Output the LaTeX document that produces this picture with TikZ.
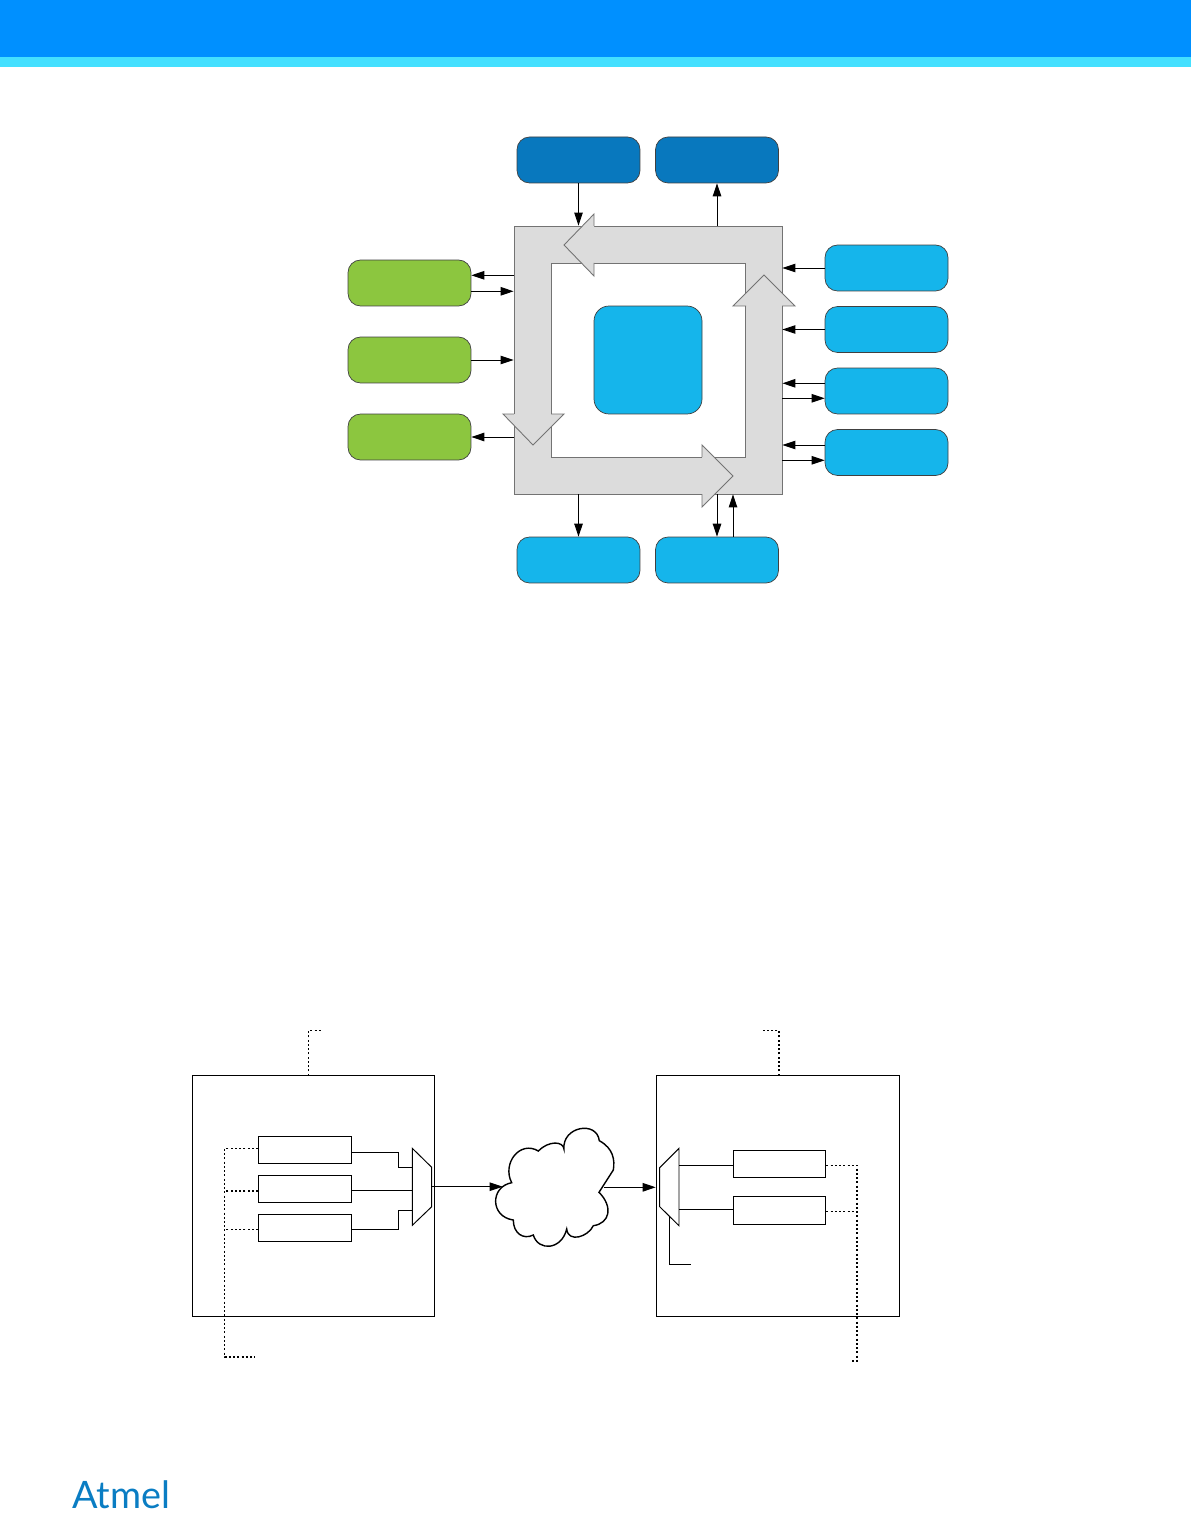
\documentclass[tikz,border=0pt]{standalone}
\usepackage{fontspec}
\usepackage{tikz}
\usetikzlibrary{arrows.meta}
\newfontfamily\logofont{Lato}
\definecolor{headblue}{RGB}{0,144,255}
\definecolor{headcyan}{RGB}{68,224,255}
\definecolor{darkblue}{RGB}{8,120,190}
\definecolor{lightblue}{RGB}{21,181,235}
\definecolor{leafgreen}{RGB}{140,198,63}
\definecolor{busgrey}{RGB}{220,220,220}
\definecolor{logoblue}{RGB}{10,125,195}
\tikzset{
  unit/.style={draw=black!75,rounded corners=0.25cm,minimum width=2.46cm,minimum height=0.92cm,inner sep=0pt,line width=0.4pt},
  master/.style={unit,fill=darkblue},
  slave/.style={unit,fill=lightblue},
  memory/.style={unit,fill=leafgreen},
  busbox/.style={draw=black!55,fill=busgrey,minimum size=5.36cm,inner sep=0pt,line width=0.5pt},
  conn/.style={line width=0.55pt,-{Triangle[length=2.6mm,width=1.7mm]}},
  wire/.style={line width=0.55pt},
  dots/.style={line width=0.85pt,dash pattern=on 0.04cm off 0.045cm},
  frame/.style={draw,line width=0.6pt,inner sep=0pt},
  reg/.style={frame,minimum width=1.85cm,minimum height=0.54cm}
}
\newcommand{\bushead}[5]{
\fill[busgrey] #1 -- #3 -- #5 -- cycle;
\draw[draw=black!55,line width=0.5pt] #2 -- #1 -- #3 -- #5 -- #4;
}
\begin{document}
\begin{tikzpicture}[x=0.02cm,y=-0.02cm]
\useasboundingbox (0,0) rectangle (1191,1513);
\fill[headblue] (0,0) rectangle (1191,57);
\fill[headcyan] (0,57) rectangle (1191,67);

\node[busbox] (bus) at (648,360) {};
\node[busbox,fill=white,minimum size=3.88cm] (busin) at (648,360) {};
\bushead{(503,414)}{(514,414)}{(533,445)}{(551,414)}{(564,414)}
\bushead{(594,214)}{(594,226)}{(564,245)}{(594,263)}{(594,276)}
\bushead{(702,445)}{(702,457)}{(733,476)}{(702,494)}{(702,507)}
\bushead{(733,306)}{(746,306)}{(764,275)}{(782,306)}{(795,306)}

\node[slave,minimum width=2.16cm,minimum height=2.16cm,rounded corners=0.3cm] (cpu) at (648,360) {};
\node[master] (m1) at (578.5,160) {};
\node[master] (m2) at (717,160) {};
\node[memory] (g1) at (409.5,283) {};
\node[memory] (g2) at (409.5,360) {};
\node[memory] (g3) at (409.5,437) {};
\node[slave] (p1) at (886.5,268) {};
\node[slave] (p2) at (886.5,329.5) {};
\node[slave] (p3) at (886.5,391) {};
\node[slave] (p4) at (886.5,452.5) {};
\node[slave] (p5) at (578.5,560) {};
\node[slave] (p6) at (717,560) {};

\path[conn]
(m1.south) edge (m1.south |- bus.north)
(m2.south |- bus.north) edge (m2.south)
([yshift=0.154cm]g1.east -| bus.west) edge ([yshift=0.154cm]g1.east)
([yshift=-0.166cm]g1.east) edge ([yshift=-0.166cm]g1.east -| bus.west)
(g2.east) edge (bus.west)
(g3.east -| bus.west) edge (g3.east)
(p1.west) edge (p1.west -| bus.east)
(p2.west) edge (p2.west -| bus.east)
([yshift=0.154cm]p3.west) edge ([yshift=0.154cm]p3.west -| bus.east)
([yshift=-0.146cm]p3.west -| bus.east) edge ([yshift=-0.146cm]p3.west)
([yshift=0.15cm]p4.west) edge ([yshift=0.15cm]p4.west -| bus.east)
([yshift=-0.156cm]p4.west -| bus.east) edge ([yshift=-0.156cm]p4.west)
(p5.north |- bus.south) edge (p5.north)
(p6.north |- bus.south) edge (p6.north)
([xshift=0.32cm]p6.north) edge ([xshift=0.32cm]p6.north |- bus.south);

\node[frame,minimum width=4.84cm,minimum height=4.81cm] (src) at (313.3,1196) {};
\node[frame,minimum width=4.86cm,minimum height=4.81cm] (dst) at (777.8,1196) {};
\node[reg] (ra) at (305,1149.8) {};
\node[reg] (rb) at (305,1188.8) {};
\node[reg] (rc) at (305,1227.8) {};
\node[reg] (rd) at (779.5,1163.8) {};
\node[reg,minimum height=0.56cm] (re) at (779.5,1210.3) {};

\coordinate (txa) at (412.3,1148.3);
\coordinate (txb) at (431.7,1167.3);
\coordinate (txc) at (431.7,1206.7);
\coordinate (txd) at (412.3,1225.3);
\coordinate (rxa) at (679,1148.3);
\coordinate (rxb) at (659.7,1167.7);
\coordinate (rxc) at (659.7,1206.7);
\coordinate (rxd) at (679,1225.7);
\draw[wire,fill=white] (txa) -- (txb) -- (txc) -- (txd) -- cycle;
\draw[wire,fill=white] (rxa) -- (rxb) -- (rxc) -- (rxd) -- cycle;

\draw[wire] (ra.east |- 0,1152.3) -- (398.3,1152.3) -- (398.3,1167.3) -- (412.3,1167.3);
\draw[wire] (rb.east |- 0,1190.7) -- (412.3,1190.7);
\draw[wire] (rc.east |- 0,1229.3) -- (398.3,1229.3) -- (398.3,1210.3) -- (412.3,1210.3);
\draw[wire] (679,1165.3) -- (rd.west |- 0,1165.3);
\draw[wire] (679,1209.3) -- (re.west |- 0,1209.3);
\draw[wire] (669.3,1216.7) -- (669.3,1264.3) -- (690.7,1264.3);

\draw[line width=0.8pt] (511.7,1182.7)
.. controls (501.7,1163.3) and (520,1140) .. (538.3,1151)
.. controls (548.3,1140.7) and (563.3,1140.7) .. (564,1149.3)
.. controls (561.7,1126.7) and (596.7,1120) .. (599.3,1140.7)
.. controls (613.3,1148.3) and (615,1160) .. (613.3,1170)
-- (599,1192.3)
.. controls (613.3,1206.7) and (610,1223.3) .. (593.3,1225.7)
.. controls (588.3,1236.7) and (568.3,1243.3) .. (566.7,1229)
.. controls (561.7,1250) and (538.3,1251.7) .. (533.3,1235)
.. controls (523.3,1240) and (513.3,1233.3) .. (513.3,1220)
.. controls (490,1216.7) and (490,1186.7) .. (511.7,1182.7) -- cycle;
\coordinate (cloudin) at (502.7,1186.7);
\coordinate (cloudout) at (604,1187.3);

\draw[conn] (431.7,1186.7) -- (cloudin);
\draw[conn] (cloudout) -- (655.7,1187.3);

\draw[dots] (308.7,1075.7) -- (308.7,1030.7) -- (320.7,1030.7);
\draw[dots] (779,1075.7) -- (779,1030.7) -- (761.7,1030.7);
\draw[dots] (ra.west |- 0,1148.3) -- (224.7,1148.3) -- (224.7,1357) -- (255,1357);
\draw[dots] (rb.west |- 0,1191) -- (224.7,1191);
\draw[dots] (rc.west |- 0,1229.7) -- (224.7,1229.7);
\draw[dots] (rd.east |- 0,1165.3) -- (857,1165.3) -- (857,1361) -- (851.7,1361);
\draw[dots] (re.east |- 0,1211.7) -- (857,1211.7);

\node[logoblue,font=\logofont\fontsize{21.5}{21.5}\selectfont,inner sep=0pt] (logo) at (121,1495) {Atmel};
\end{tikzpicture}
\end{document}
